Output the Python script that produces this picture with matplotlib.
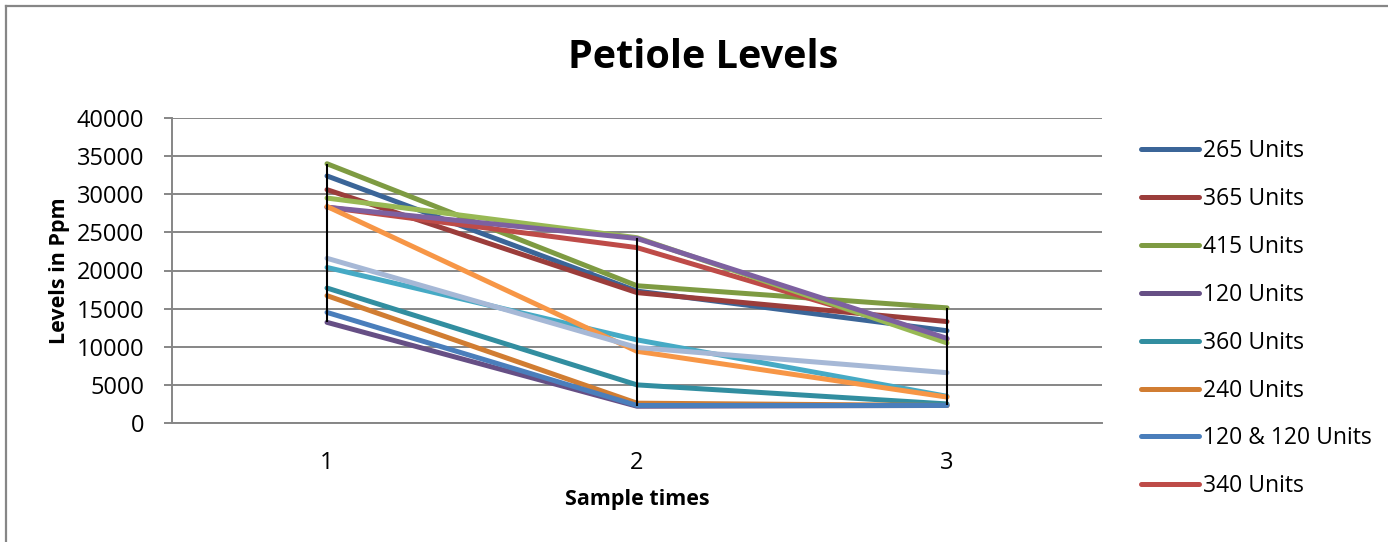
import matplotlib
matplotlib.use("Agg")
import matplotlib.pyplot as plt
from matplotlib.lines import Line2D
import numpy as np

plt.rcParams['font.family'] = ['Open Sans', 'DejaVu Sans']

# Data
sample_times = [1, 2, 3]
series_names = ["265 Units", "365 Units", "415 Units", "120 Units",
                "360 Units", "240 Units", "120 & 120 Units", "340 Units"]
units_265 = [32400, 17300, 12100]
units_365 = [30600, 17100, 13300]
units_415 = [34000, 18000, 15100]
units_120 = [13200, 2200, 2300]
units_360 = [17700, 5000, 2500]
units_240 = [16700, 2600, 2300]
units_120_120 = [14500, 2300, 2300]
units_340 = [28300, 23000, 11000]
# series past the legend cut-off (no names visible)
extra_9 = [29500, 24300, 10500]
extra_10 = [28300, 24200, 11100]
extra_11 = [20400, 10900, 3500]
extra_12 = [28400, 9400, 3400]
extra_13 = [21600, 9900, 6600]

all_series = [units_265, units_365, units_415, units_120, units_360, units_240,
              units_120_120, units_340, extra_9, extra_10, extra_11, extra_12, extra_13]
colors = ['#3B6598', '#9B3D3B', '#7E9B42', '#664F85', '#328EA0', '#D17D32',
          '#4A7EBB', '#BE4B48', '#98B954', '#7D60A0', '#46AAC5', '#F79646', '#A6B8D6']

W, H = 1388, 542
fig = plt.figure(figsize=(W / 100, H / 100), dpi=100)
ax = fig.add_axes([172 / W, 1 - 423 / H, (1102 - 172) / W, (423 - 118) / H])

grid_col = '#868686'
lines = []
for i, vals in enumerate(all_series):
    name = series_names[i] if i < len(series_names) else None
    ln, = ax.plot(sample_times, vals, color=colors[i], lw=3.6,
                  solid_capstyle='round', label=name, zorder=3)
    lines.append(ln)

# high-low lines
arr = np.array(all_series)
ax.vlines(sample_times, arr.min(axis=0), arr.max(axis=0), color='black', lw=1.5, zorder=5)

ax.set_xlim(0.5, 3.5)
ax.set_ylim(0, 40000)
ax.set_yticks(range(0, 40001, 5000))
ax.set_xticks(sample_times)
ax.yaxis.grid(True, color=grid_col, lw=1.4)
ax.set_axisbelow(True)
for s in ['top', 'right']:
    ax.spines[s].set_visible(False)
for s in ['left', 'bottom']:
    ax.spines[s].set_color(grid_col)
    ax.spines[s].set_linewidth(1.4)
ax.tick_params(axis='y', length=6, width=1.4, color=grid_col, labelsize=17, pad=14)
ax.tick_params(axis='x', length=0, labelsize=17, pad=20)

ax.set_xlabel("Sample times", fontsize=15.5, fontweight='bold', labelpad=10)
ax.set_ylabel("Levels in Ppm", fontsize=15.5, fontweight='bold', labelpad=5)

fig.text(703 / W, 1 - 57 / H, "Petiole Levels", fontsize=28.5, fontweight='bold',
         ha='center', va='center')

ax.legend(handles=lines[:8], loc='upper left', bbox_to_anchor=(1130 / W, 1 - 128 / H),
          bbox_transform=fig.transFigure, frameon=False, fontsize=16.5,
          handlelength=2.5, handletextpad=0.2, labelspacing=1.04, borderpad=0)

# chart frame (top and left edges visible)
fig.add_artist(Line2D([6 / W, 6 / W], [0, 1 - 6 / H], color=grid_col, lw=1.6))
fig.add_artist(Line2D([6 / W, 1], [1 - 6 / H, 1 - 6 / H], color=grid_col, lw=1.6))

fig.savefig("out.png", dpi=100)
